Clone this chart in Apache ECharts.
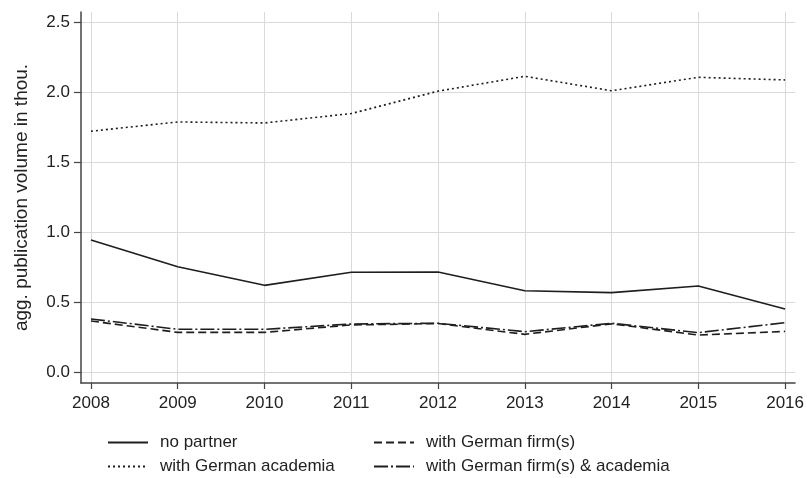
<!DOCTYPE html>
<html>
<head>
<meta charset="utf-8">
<script src="https://cdn.jsdelivr.net/npm/echarts@6/dist/echarts.min.js"></script>
<style>
	html,body{margin:0;padding:0;background:#fff;}
	#main{width:807px;height:478px;}
</style>
</head>
<body>
<div id="main"></div>
<script>
var years = [2008, 2009, 2010, 2011, 2012, 2013, 2014, 2015, 2016];
var yTicks = [0, 0.5, 1, 1.5, 2, 2.5];
var noPartner = [0.943, 0.752, 0.619, 0.712, 0.714, 0.580, 0.567, 0.614, 0.450];
var withAcademia = [1.720, 1.786, 1.779, 1.846, 2.006, 2.112, 2.009, 2.105, 2.086];
var withFirms = [0.364, 0.283, 0.283, 0.336, 0.346, 0.269, 0.344, 0.264, 0.290];
var withFirmsAcademia = [0.379, 0.305, 0.305, 0.343, 0.348, 0.288, 0.348, 0.281, 0.352];
var seriesNames = ['no partner', 'with German academia', 'with German firm(s)', 'with German firm(s) & academia'];

var myChart = echarts.init(document.getElementById('main'), null, {renderer: 'canvas'});
var font = 'Liberation Sans, Arial, sans-serif';

//把年份和数值拼成点
function toPoints(values)
{
	var res = [];
	for(var i = 0;i < years.length;i++)
	{
		res.push([years[i], values[i]]);
	}
	return res;
}

function makeSeries(name, values, dash)
{
	return {
		name: name,
		type: 'line',
		symbol: 'none',
		smooth: false,
		animation: false,
		lineStyle: {color: '#1e1e1e', width: 1.6, type: dash},
		itemStyle: {color: '#1e1e1e'},
		data: toPoints(values)
	};
}

//每个图例单独放一个，排成两列两行
function makeLegend(name, left, top)
{
	return {
		orient: 'horizontal',
		left: left,
		top: top,
		padding: 0,
		itemWidth: 40,
		itemHeight: 20,
		selectedMode: false,
		itemStyle: {color: 'rgba(0,0,0,0)', borderWidth: 0, opacity: 0},
		textStyle: {fontFamily: font, fontSize: 17, color: '#222', padding: [0, 0, 0, 7]},
		data: [name]
	};
}

var option = {
	backgroundColor: '#fff',
	animation: false,
	grid: {left: 81, right: 10, top: 12, bottom: 95, containLabel: false},
	legend: [
		makeLegend(seriesNames[0], 107, 434),
		makeLegend(seriesNames[1], 107, 458),
		makeLegend(seriesNames[2], 373, 434),
		makeLegend(seriesNames[3], 373, 458)
	],
	xAxis: {
		type: 'value',
		min: 2008 - 10 / 87,
		max: 2016 + 10 / 87,
		axisLine: {show: true, onZero: false, lineStyle: {color: '#444', width: 1.5}},
		axisTick: {show: true, length: 6, customValues: years, lineStyle: {color: '#444', width: 1.2}},
		axisLabel: {customValues: years, margin: 12, fontFamily: font, fontSize: 17, color: '#222',
			formatter: function(v){ return String(Math.round(v)); }},
		splitLine: {show: true, customValues: years, lineStyle: {color: '#dadada', width: 1}}
	},
	yAxis: {
		type: 'value',
		min: -11 / 140,
		max: 2.5 + 10 / 140,
		name: 'agg. publication volume in thou.',
		nameLocation: 'middle',
		nameGap: 50,
		nameTextStyle: {fontFamily: font, fontSize: 19, color: '#222'},
		axisLine: {show: true, onZero: false, lineStyle: {color: '#444', width: 1.5}},
		axisTick: {show: true, length: 7, customValues: yTicks, lineStyle: {color: '#444', width: 1.2}},
		axisLabel: {customValues: yTicks, margin: 11, fontFamily: font, fontSize: 17, color: '#222',
			formatter: function(v){ return v.toFixed(1); }},
		splitLine: {show: true, customValues: yTicks, lineStyle: {color: '#dadada', width: 1}}
	},
	series: [
		makeSeries(seriesNames[0], noPartner, 'solid'),
		makeSeries(seriesNames[1], withAcademia, [2, 3]),
		makeSeries(seriesNames[2], withFirms, [8, 4]),
		makeSeries(seriesNames[3], withFirmsAcademia, [14, 3, 2, 3])
	]
};

myChart.setOption(option);
</script>
</body>
</html>
